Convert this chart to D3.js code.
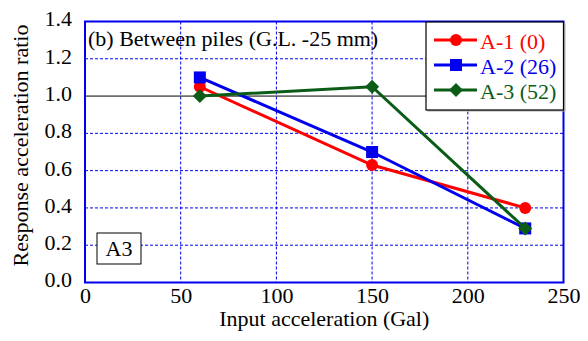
<!DOCTYPE html>
<html>
<head>
<meta charset="utf-8">
<script src="https://cdn.jsdelivr.net/npm/d3@7"></script>
<style>
  body { margin: 0; background: #fff; }
</style>
</head>
<body>
<svg id="chart" width="588" height="341"></svg>
<script>
// input acceleration (Gal) for each test
const inputGal = [60, 150, 230]
const seriesNames = ['A-1 (0)', 'A-2 (26)', 'A-3 (52)']
const a1 = [1.05, 0.63, 0.40]
const a2 = [1.10, 0.70, 0.29]
const a3 = [1.00, 1.05, 0.29]
const seriesColors = ['#ff0000', '#0000ee', '#0b5c17']
const seriesShapes = ['circle', 'square', 'diamond']
const xTicks = [0, 50, 100, 150, 200, 250]
const yTicks = [0.0, 0.2, 0.4, 0.6, 0.8, 1.0, 1.2, 1.4]

const serif = '"Liberation Serif"'
const fs = '22px'
const svg = d3.select('#chart')
const margin = {left: 85, right: 24.5, top: 21.5, bottom: 58.5}
const width = 588 - margin.left - margin.right
const height = 341 - margin.top - margin.bottom

const x = d3.scaleLinear([0, 250], [0, width])
const y = d3.scaleLinear([0, 1.4], [height, 0])

const g = svg.append('g').attr('transform', `translate(${margin.left},${margin.top})`)

// dashed grid
g.append('g')
  .selectAll('line')
  .data(xTicks.slice(1, -1))
  .join('line')
    .attr('x1', d => x(d)).attr('x2', d => x(d))
    .attr('y1', 0).attr('y2', height)
    .attr('stroke', '#0000ee').attr('stroke-width', 1)
    .attr('stroke-dasharray', '3,2')
g.append('g')
  .selectAll('line')
  .data(yTicks.slice(1, -1).filter(d => d != 1.0))
  .join('line')
    .attr('x1', 0).attr('x2', width)
    .attr('y1', d => y(d)).attr('y2', d => y(d))
    .attr('stroke', '#0000ee').attr('stroke-width', 1)
    .attr('stroke-dasharray', '3,2')
// solid reference line at ratio 1.0
g.append('line')
  .attr('x1', 0).attr('x2', width)
  .attr('y1', y(1.0)).attr('y2', y(1.0))
  .attr('stroke', '#000').attr('stroke-width', 1)

// axes
const xAxis = d3.axisBottom(x).tickValues(xTicks).tickSize(0).tickPadding(5).tickFormat(d3.format('d'))
g.append('g')
  .attr('transform', `translate(0,${height})`)
  .call(xAxis)
  .call(s => s.select('.domain').remove())
  .selectAll('text')
    .attr('fill', '#000')
    .style('font-size', fs).style('font-family', serif)

const yAxis = d3.axisLeft(y).tickValues(yTicks).tickSize(0).tickPadding(13).tickFormat(d3.format('.1f'))
g.append('g')
  .call(yAxis)
  .call(s => s.select('.domain').remove())
  .selectAll('text')
    .attr('fill', '#000').attr('dy', '0.2em')
    .style('font-size', fs).style('font-family', serif)

// plot frame
g.append('rect')
  .attr('width', width).attr('height', height)
  .attr('fill', 'none').attr('stroke', '#0000ee').attr('stroke-width', 2)

// axis titles
svg.append('text')
  .attr('x', margin.left + width / 2).attr('y', 326)
  .attr('text-anchor', 'middle')
  .style('font-size', fs).style('font-family', serif)
  .text('Input acceleration (Gal)')
svg.append('text')
  .attr('transform', `translate(28,145.5) rotate(-90)`)
  .attr('text-anchor', 'middle')
  .style('font-size', fs).style('font-family', serif)
  .text('Response acceleration ratio')

// panel labels
g.append('text')
  .attr('x', 3).attr('y', 24)
  .style('font-size', fs).style('font-family', serif)
  .text('(b) Between piles (G.L. -25 mm)')
g.append('rect')
  .attr('x', 12).attr('y', 211.5).attr('width', 44).attr('height', 31)
  .attr('fill', '#fff').attr('stroke', '#000').attr('stroke-width', 1)
g.append('text')
  .attr('x', 34).attr('y', 234.5).attr('text-anchor', 'middle')
  .style('font-size', fs).style('font-family', serif)
  .text('A3')

function marker(sel, shape, color) {
  if (shape == 'circle') {
    sel.append('circle').attr('r', 6).attr('fill', color)
  } else if (shape == 'square') {
    sel.append('rect').attr('x', -6).attr('y', -6).attr('width', 12).attr('height', 12).attr('fill', color)
  } else {
    sel.append('path').attr('d', 'M0,-7L7,0L0,7L-7,0Z').attr('fill', color)
  }
}

const allSeries = [a1, a2, a3]
const line = d3.line().x(d => x(d[0])).y(d => y(d[1]))
allSeries.forEach((vals, k) => {
  const pts = inputGal.map((v, i) => [v, vals[i]])
  g.append('path')
    .attr('d', line(pts))
    .attr('fill', 'none').attr('stroke', seriesColors[k]).attr('stroke-width', 3)
  pts.forEach(p => {
    const m = g.append('g').attr('transform', `translate(${x(p[0])},${y(p[1])})`)
    marker(m, seriesShapes[k], seriesColors[k])
  })
})

// legend
const lg = svg.append('g').attr('transform', 'translate(426,22)')
lg.append('rect').attr('x', 1.5).attr('y', 1.5).attr('width', 138).attr('height', 88).attr('fill', '#aaa')
lg.append('rect').attr('width', 137.5).attr('height', 88).attr('fill', '#fff').attr('stroke', '#000').attr('stroke-width', 1.2)
seriesNames.forEach((name, k) => {
  const row = lg.append('g').attr('transform', `translate(0,${18 + k * 25})`)
  row.append('line').attr('x1', 8).attr('x2', 51).attr('stroke', seriesColors[k]).attr('stroke-width', 3)
  const m = row.append('g').attr('transform', 'translate(30,0)')
  marker(m, seriesShapes[k], seriesColors[k])
  row.append('text').attr('x', 54).attr('y', 8.5)
    .style('font-size', fs).style('font-family', serif)
    .attr('fill', seriesColors[k]).text(name)
})
</script>
</body>
</html>
